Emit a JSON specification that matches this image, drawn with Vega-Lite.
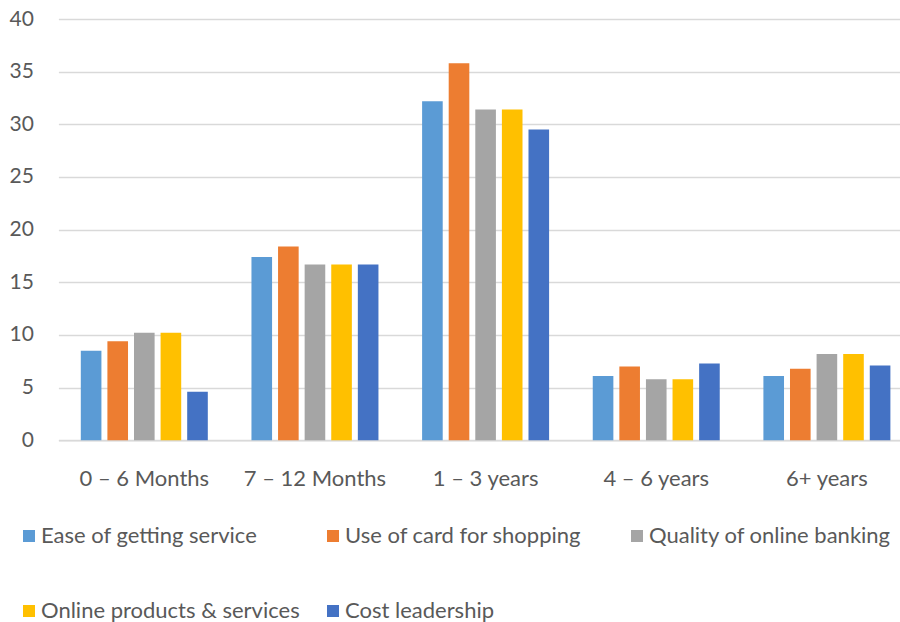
{
  "$schema": "https://vega.github.io/schema/vega-lite/v6.json",
  "autosize": {"type": "none"},
  "padding": {"left": 58.4, "top": 19, "right": 0, "bottom": 181.7},
  "width": 841.6,
  "height": 421.3,
  "background": "white",
  "data": {
    "values": [
      {"period": "0 – 6 Months", "factor": "Ease of getting service", "value": 8.5},
      {"period": "0 – 6 Months", "factor": "Use of card for shopping", "value": 9.4},
      {"period": "0 – 6 Months", "factor": "Quality of online banking", "value": 10.2},
      {"period": "0 – 6 Months", "factor": "Online products & services", "value": 10.2},
      {"period": "0 – 6 Months", "factor": "Cost leadership", "value": 4.6},
      {"period": "7 – 12 Months", "factor": "Ease of getting service", "value": 17.4},
      {"period": "7 – 12 Months", "factor": "Use of card for shopping", "value": 18.4},
      {"period": "7 – 12 Months", "factor": "Quality of online banking", "value": 16.7},
      {"period": "7 – 12 Months", "factor": "Online products & services", "value": 16.7},
      {"period": "7 – 12 Months", "factor": "Cost leadership", "value": 16.7},
      {"period": "1 – 3 years", "factor": "Ease of getting service", "value": 32.2},
      {"period": "1 – 3 years", "factor": "Use of card for shopping", "value": 35.8},
      {"period": "1 – 3 years", "factor": "Quality of online banking", "value": 31.4},
      {"period": "1 – 3 years", "factor": "Online products & services", "value": 31.4},
      {"period": "1 – 3 years", "factor": "Cost leadership", "value": 29.5},
      {"period": "4 – 6 years", "factor": "Ease of getting service", "value": 6.1},
      {"period": "4 – 6 years", "factor": "Use of card for shopping", "value": 7.0},
      {"period": "4 – 6 years", "factor": "Quality of online banking", "value": 5.8},
      {"period": "4 – 6 years", "factor": "Online products & services", "value": 5.8},
      {"period": "4 – 6 years", "factor": "Cost leadership", "value": 7.3},
      {"period": "6+ years", "factor": "Ease of getting service", "value": 6.1},
      {"period": "6+ years", "factor": "Use of card for shopping", "value": 6.8},
      {"period": "6+ years", "factor": "Quality of online banking", "value": 8.2},
      {"period": "6+ years", "factor": "Online products & services", "value": 8.2},
      {"period": "6+ years", "factor": "Cost leadership", "value": 7.1}
    ]
  },
  "mark": {"type": "bar"},
  "encoding": {
    "x": {
      "field": "period",
      "type": "nominal",
      "sort": ["0 – 6 Months", "7 – 12 Months", "1 – 3 years", "4 – 6 years", "6+ years"],
      "scale": {"paddingInner": 0.2558, "paddingOuter": 0.0938, "align": 0.7},
      "axis": {
        "title": null,
        "labelAngle": 0,
        "labelFont": "Lato",
        "labelFontSize": 22,
        "labelColor": "#595959",
        "labelPadding": 28,
        "ticks": false,
        "domain": true,
        "domainColor": "#D9D9D9",
        "domainWidth": 1.3
      }
    },
    "xOffset": {
      "field": "factor",
      "type": "nominal",
      "sort": ["Ease of getting service", "Use of card for shopping", "Quality of online banking", "Online products & services", "Cost leadership"],
      "scale": {"paddingInner": 0.225, "paddingOuter": 0}
    },
    "y": {
      "field": "value",
      "type": "quantitative",
      "scale": {"domain": [0, 40], "nice": false},
      "axis": {
        "title": null,
        "values": [0, 5, 10, 15, 20, 25, 30, 35, 40],
        "labelFont": "Lato",
        "labelFontSize": 21,
        "labelColor": "#595959",
        "labelPadding": 25,
        "ticks": false,
        "domain": false,
        "grid": true,
        "gridColor": "#D9D9D9",
        "gridWidth": 1.3
      }
    },
    "color": {
      "field": "factor",
      "type": "nominal",
      "scale": {
        "domain": ["Ease of getting service", "Use of card for shopping", "Quality of online banking", "Online products & services", "Cost leadership"],
        "range": ["#5B9BD5", "#ED7D31", "#A5A5A5", "#FFC000", "#4472C4"]
      },
      "legend": {
        "title": null,
        "orient": "none",
        "legendX": -40.4,
        "legendY": 506,
        "direction": "horizontal",
        "columns": 3,
        "gridAlign": "all",
        "columnPadding": 22,
        "rowPadding": 53,
        "padding": 0,
        "symbolType": "square",
        "symbolSize": 144,
        "symbolStrokeWidth": 0,
        "labelFont": "Lato",
        "labelFontSize": 22,
        "labelColor": "#595959",
        "labelOffset": 1,
        "labelLimit": 400
      }
    }
  },
  "config": {"view": {"stroke": null}}
}
